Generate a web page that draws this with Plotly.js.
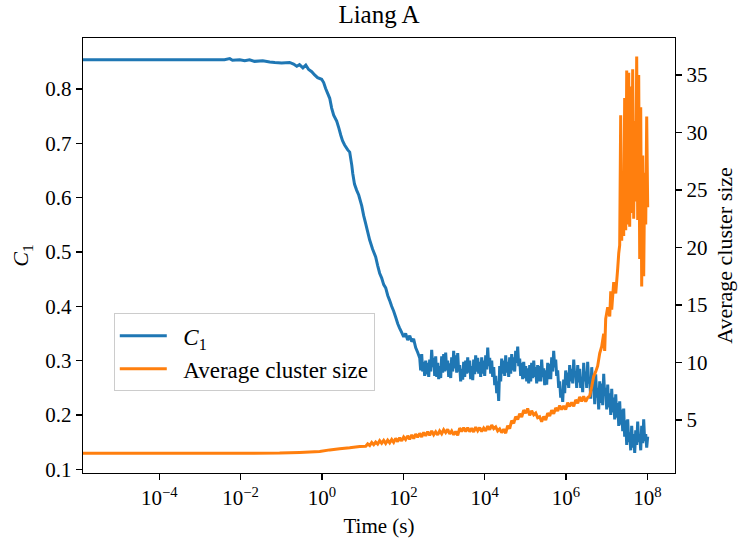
<!DOCTYPE html>
<html>
<head>
<meta charset="utf-8">
<script src="https://cdn.plot.ly/plotly-3.0.1.min.js"></script>
<style>
  html, body { margin: 0; padding: 0; background: #fff; }
  #chart { width: 739px; height: 539px; }
</style>
</head>
<body>
<div id="chart"></div>
<script>
// Time (s) for the C1 series
const timeC1 = [1.3e-6, 1e-3, 4e-3, 5.4e-3, 6.3e-3, 9.5e-3, 1.26e-2, 1.66e-2, 2.2e-2, 3.5e-2,
  5.2e-2, 6.9e-2, 0.102, 0.16, 0.2, 0.24, 0.28, 0.34, 0.4, 0.47,
  0.56, 0.66, 0.78, 0.98, 1.1, 1.23, 1.38, 1.55, 1.73, 1.94,
  2.3, 2.6, 2.9, 3.2, 3.6, 4.3, 4.8, 5.4, 5.7, 6.3,
  7.1, 8.0, 9.5, 10.6, 11.8, 13.3, 14.9, 17.6, 20.9, 23.4,
  26.2, 29.4, 32.9, 36.9, 41.4, 46, 51.7, 58, 65, 73,
  81, 91, 102, 114, 128, 144, 161, 179, 201, 226,
  253, 267, 283, 299, 317, 335, 355, 376, 397, 421,
  445, 471, 498, 528, 558, 591, 625, 662, 700, 741,
  783, 830, 877, 929, 982, 1040, 1100, 1165, 1233, 1304,
  1380, 1462, 1545, 1637, 1730, 1832, 1937, 2051, 2173, 2297,
  2432, 2570, 2723, 2884, 3048, 3228, 3414, 3614, 3828, 4046,
  4285, 4529, 4797, 5082, 5370, 5689, 6012, 6368, 6745, 7129,
  7551, 7980, 8453, 8954, 9462, 1.002e4, 1.06e4, 1.122e4, 1.19e4, 1.256e4,
  1.33e4, 1.406e4, 1.49e4, 1.574e4, 1.67e4, 1.766e4, 1.87e4, 1.977e4, 2.09e4, 2.213e4,
  2.34e4, 2.477e4, 2.62e4, 2.773e4, 2.94e4, 3.112e4, 3.29e4, 3.483e4, 3.68e4, 3.899e4,
  4.12e4, 4.365e4, 4.62e4, 4.887e4, 5.18e4, 5.47e4, 5.79e4, 6.14e4, 6.49e4, 6.87e4,
  7.26e4, 7.69e4, 8.13e4, 8.61e4, 9.12e4, 9.64e4, 1.02e5, 1.081e5, 1.14e5, 1.21e5,
  1.28e5, 1.355e5, 1.43e5, 1.517e5, 1.61e5, 1.698e5, 1.80e5, 1.901e5, 2.01e5, 2.133e5,
  2.25e5, 2.388e5, 2.52e5, 2.673e5, 2.83e5, 2.992e5, 3.17e5, 3.35e5, 3.55e5, 3.75e5,
  3.97e5, 4.21e5, 4.45e5, 4.71e5, 4.98e5, 5.27e5, 5.58e5, 5.90e5, 6.25e5, 6.61e5,
  7.00e5, 7.41e5, 7.83e5, 8.30e5, 8.77e5, 9.29e5, 9.82e5, 1.04e6, 1.10e6, 1.164e6,
  1.23e6, 1.303e6, 1.38e6, 1.462e6, 1.55e6, 1.637e6, 1.73e6, 1.832e6, 1.94e6, 2.051e6,
  2.17e6, 2.297e6, 2.43e6, 2.57e6, 2.72e6, 2.884e6, 3.05e6, 3.228e6, 3.41e6, 3.614e6,
  3.83e6, 4.046e6, 4.29e6, 4.529e6, 4.80e6, 5.082e6, 5.37e6, 5.689e6, 6.01e6, 6.368e6,
  6.74e6, 7.129e6, 7.55e6, 7.98e6, 8.45e6, 8.94e6, 9.46e6, 1.002e7, 1.06e7, 1.122e7,
  1.19e7, 1.26e7, 1.33e7, 1.406e7, 1.49e7, 1.574e7, 1.67e7, 1.766e7, 1.87e7, 1.98e7,
  2.09e7, 2.21e7, 2.34e7, 2.48e7, 2.62e7, 2.77e7, 2.94e7, 3.11e7, 3.29e7, 3.48e7,
  3.68e7, 3.90e7, 4.12e7, 4.36e7, 4.62e7, 4.89e7, 5.18e7, 5.47e7, 5.79e7, 6.13e7,
  6.49e7, 6.87e7, 7.26e7, 7.69e7, 8.13e7, 8.61e7, 9.12e7, 9.64e7, 1.02e8];

// C1 values
const c1 = [0.854, 0.854, 0.854, 0.856, 0.853, 0.854, 0.852, 0.854, 0.851, 0.852,
  0.850, 0.849, 0.848, 0.849, 0.846, 0.842, 0.845, 0.839, 0.844, 0.836,
  0.832, 0.826, 0.821, 0.818, 0.812, 0.801, 0.792, 0.783, 0.765, 0.752,
  0.741, 0.728, 0.715, 0.705, 0.697, 0.688, 0.684, 0.660, 0.645, 0.625,
  0.614, 0.605, 0.585, 0.567, 0.553, 0.537, 0.522, 0.505, 0.491, 0.475,
  0.461, 0.452, 0.440, 0.434, 0.420, 0.411, 0.400, 0.391, 0.380, 0.368,
  0.360, 0.352, 0.344, 0.350, 0.338, 0.346, 0.335, 0.340, 0.324, 0.315,
  0.305, 0.282, 0.312, 0.280, 0.298, 0.272, 0.300, 0.275, 0.296, 0.270,
  0.302, 0.280, 0.320, 0.288, 0.305, 0.272, 0.308, 0.270, 0.296, 0.266,
  0.290, 0.268, 0.308, 0.278, 0.312, 0.280, 0.315, 0.282, 0.300, 0.270,
  0.295, 0.268, 0.306, 0.280, 0.318, 0.286, 0.310, 0.278, 0.314, 0.280,
  0.292, 0.262, 0.285, 0.265, 0.298, 0.270, 0.300, 0.276, 0.306, 0.278,
  0.300, 0.266, 0.290, 0.264, 0.302, 0.275, 0.310, 0.280, 0.305, 0.276,
  0.298, 0.270, 0.306, 0.276, 0.300, 0.272, 0.310, 0.284, 0.324, 0.290,
  0.305, 0.276, 0.300, 0.270, 0.288, 0.255, 0.272, 0.240, 0.262, 0.226,
  0.290, 0.262, 0.304, 0.276, 0.300, 0.272, 0.310, 0.278, 0.298, 0.270,
  0.306, 0.276, 0.312, 0.282, 0.306, 0.280, 0.318, 0.296, 0.326, 0.290,
  0.304, 0.272, 0.296, 0.266, 0.298, 0.268, 0.290, 0.262, 0.286, 0.258,
  0.292, 0.262, 0.296, 0.268, 0.300, 0.270, 0.288, 0.258, 0.292, 0.262,
  0.290, 0.262, 0.302, 0.270, 0.286, 0.255, 0.282, 0.256, 0.296, 0.266,
  0.294, 0.266, 0.306, 0.280, 0.318, 0.288, 0.302, 0.272, 0.282, 0.250,
  0.262, 0.232, 0.245, 0.224, 0.265, 0.240, 0.282, 0.255, 0.278, 0.250,
  0.292, 0.262, 0.285, 0.258, 0.302, 0.270, 0.280, 0.250, 0.292, 0.260,
  0.285, 0.250, 0.270, 0.242, 0.296, 0.262, 0.280, 0.250, 0.298, 0.258,
  0.270, 0.230, 0.288, 0.245, 0.262, 0.220, 0.275, 0.232, 0.250, 0.210,
  0.262, 0.222, 0.258, 0.218, 0.276, 0.236, 0.250, 0.210, 0.256, 0.214,
  0.240, 0.200, 0.248, 0.205, 0.232, 0.192, 0.238, 0.195, 0.222, 0.180,
  0.225, 0.182, 0.210, 0.170, 0.212, 0.160, 0.190, 0.145, 0.192, 0.150,
  0.168, 0.135, 0.180, 0.140, 0.165, 0.130, 0.172, 0.145, 0.188, 0.150,
  0.165, 0.135, 0.180, 0.148, 0.192, 0.152, 0.165, 0.140, 0.160];

// Time (s) for the average cluster size series
const timeSize = [1.3e-6, 1.67e-2, 9.1e-2, 0.283, 0.499, 0.878, 1.55, 2.72, 4.80, 8.45,
  11.9, 13.3, 14.9, 16.7, 18.7, 20.9, 23.4, 26.2, 29.4, 32.9,
  36.8, 41.2, 46.2, 51.8, 57.9, 64.9, 72.6, 81.3, 91.2, 102,
  114, 128, 143, 161, 180, 201, 225, 253, 283, 317,
  355, 397, 445, 498, 558, 625, 700, 783, 877, 982,
  1100, 1233, 1380, 1545, 1730, 1937, 2173, 2432, 2723, 3048,
  3414, 3828, 4285, 4797, 5370, 6012, 6745, 7551, 8453, 9462,
  1.06e4, 1.19e4, 1.33e4, 1.49e4, 1.67e4, 1.87e4, 2.09e4, 2.34e4, 2.62e4, 2.94e4,
  3.29e4, 3.68e4, 4.12e4, 4.62e4, 5.18e4, 5.79e4, 6.49e4, 7.26e4, 8.13e4, 9.12e4,
  1.02e5, 1.14e5, 1.28e5, 1.43e5, 1.61e5, 1.80e5, 2.01e5, 2.25e5, 2.52e5, 2.83e5,
  3.17e5, 3.55e5, 3.97e5, 4.45e5, 4.98e5, 5.58e5, 6.25e5, 7.00e5, 7.83e5, 8.77e5,
  9.82e5, 1.10e6, 1.23e6, 1.38e6, 1.55e6, 1.73e6, 1.94e6, 2.17e6, 2.43e6, 2.72e6,
  3.05e6, 3.41e6, 3.83e6, 4.29e6, 4.80e6, 5.37e6, 6.01e6, 6.74e6, 7.55e6, 8.45e6,
  8.94e6, 9.46e6, 1.06e7, 1.19e7, 1.26e7, 1.33e7, 1.49e7, 1.67e7, 1.87e7, 1.98e7,
  2.09e7, 2.21e7, 2.34e7, 2.48e7, 2.62e7, 2.77e7, 2.94e7, 3.11e7, 3.29e7, 3.48e7,
  3.68e7, 3.90e7, 4.12e7, 4.36e7, 4.62e7, 4.89e7, 5.18e7, 5.47e7, 5.79e7, 6.13e7,
  6.49e7, 6.87e7, 7.26e7, 7.69e7, 8.13e7, 8.61e7, 9.12e7, 9.64e7, 1.02e8];

// Average cluster size values
const clusterSize = [2.10, 2.10, 2.12, 2.18, 2.22, 2.26, 2.40, 2.50, 2.58, 2.70,
  2.72, 2.92, 2.78, 3.05, 2.85, 3.08, 2.90, 3.20, 2.98, 3.22,
  2.96, 3.25, 3.02, 3.30, 3.05, 3.40, 3.12, 3.46, 3.18, 3.52,
  3.30, 3.62, 3.32, 3.70, 3.38, 3.78, 3.50, 3.84, 3.52, 3.92,
  3.62, 3.98, 3.66, 4.05, 3.72, 3.98, 3.70, 4.05, 3.80, 4.15,
  3.90, 4.18, 3.78, 4.05, 3.72, 4.00, 3.66, 4.30, 4.00, 4.32,
  4.00, 4.34, 3.98, 4.28, 3.96, 4.38, 4.06, 4.34, 4.00, 4.30,
  4.05, 4.46, 4.15, 4.56, 4.25, 4.40, 4.05, 4.22, 3.90, 4.20,
  3.85, 4.50, 4.25, 4.95, 4.70, 5.30, 5.05, 5.55, 5.25, 5.85,
  5.60, 6.00, 5.40, 5.80, 5.45, 5.60, 5.20, 5.28, 4.85, 5.30,
  5.00, 5.60, 5.35, 5.85, 5.55, 6.05, 5.78, 6.25, 5.90, 6.22,
  5.90, 6.50, 6.18, 6.52, 6.20, 6.75, 6.45, 7.00, 6.62, 7.05,
  6.60, 6.95, 7.10, 7.90, 8.80, 9.20, 9.70, 10.8, 11.4, 12.5,
  11.0, 13.8, 14.8, 14.0, 16.2, 14.6, 17.0, 16.0, 18.2, 19.5,
  20.2, 31.5, 20.6, 26.0, 21.0, 33.0, 21.5, 35.4, 22.0, 35.2,
  21.8, 34.0, 23.0, 35.5, 22.5, 31.0, 24.0, 36.6, 22.4, 35.0,
  19.0, 32.2, 16.6, 28.0, 17.5, 26.5, 22.0, 31.4, 23.5];

// Axis ticks and labels
const timeTicks = [1e-4, 1e-2, 1, 1e2, 1e4, 1e6, 1e8];
const timeTickText = ['10<sup>−4</sup>', '10<sup>−2</sup>', '10<sup>0</sup>', '10<sup>2</sup>',
  '10<sup>4</sup>', '10<sup>6</sup>', '10<sup>8</sup>'];
const c1Ticks = [0.1, 0.2, 0.3, 0.4, 0.5, 0.6, 0.7, 0.8];
const sizeTicks = [5, 10, 15, 20, 25, 30, 35];

const FONT = '"Liberation Serif", "Times New Roman", serif';

const traces = [
  {
    x: timeC1, y: c1, name: '\u00a0\u00a0<i>C</i><sub>1</sub>',
    type: 'scatter', mode: 'lines',
    line: { color: '#1f77b4', width: 3, simplify: false },
    xaxis: 'x', yaxis: 'y'
  },
  {
    x: timeSize, y: clusterSize, name: '\u00a0\u00a0Average cluster size',
    type: 'scatter', mode: 'lines',
    line: { color: '#ff7f0e', width: 3, simplify: false },
    xaxis: 'x', yaxis: 'y2'
  }
];

const axisCommon = {
  showgrid: false, zeroline: false,
  showline: true, linecolor: '#000', linewidth: 1.2,
  ticks: 'outside', ticklen: 6, tickwidth: 1.2, tickcolor: '#000',
  tickfont: { family: FONT, size: 21, color: '#000' }
};

const layout = {
  width: 739, height: 539,
  margin: { l: 83, r: 64, t: 38, b: 66 },
  paper_bgcolor: '#fff', plot_bgcolor: '#fff',
  font: { family: FONT, size: 21, color: '#000' },
  title: {
    text: 'Liang A',
    font: { family: FONT, size: 25, color: '#000' },
    x: 0.5, xref: 'paper', y: 0.973, yref: 'container', yanchor: 'middle'
  },
  xaxis: Object.assign({}, axisCommon, {
    type: 'log', range: [-5.876, 8.68],
    tickvals: timeTicks, ticktext: timeTickText,
    mirror: true,
    title: { text: 'Time (s)', font: { family: FONT, size: 21, color: '#000' }, standoff: 8 }
  }),
  yaxis: Object.assign({}, axisCommon, {
    range: [0.0932, 0.894],
    tickvals: c1Ticks, tickformat: '.1f',
    title: { text: '<i>C</i><sub>1</sub>', font: { family: FONT, size: 22, color: '#000' }, standoff: 10 }
  }),
  yaxis2: Object.assign({}, axisCommon, {
    overlaying: 'y', side: 'right',
    range: [0.39, 38.22],
    tickvals: sizeTicks,
    title: { text: 'Average cluster size', font: { family: FONT, size: 22, color: '#000' }, standoff: 10 }
  }),
  showlegend: true,
  legend: {
    x: 0.052, y: 0.367, xanchor: 'left', yanchor: 'top',
    itemwidth: 47,
    bgcolor: 'rgba(255,255,255,0.8)', bordercolor: '#cccccc', borderwidth: 1,
    font: { family: FONT, size: 23, color: '#000' }
  }
};

Plotly.newPlot('chart', traces, layout, { staticPlot: true, displayModeBar: false });
</script>
</body>
</html>
